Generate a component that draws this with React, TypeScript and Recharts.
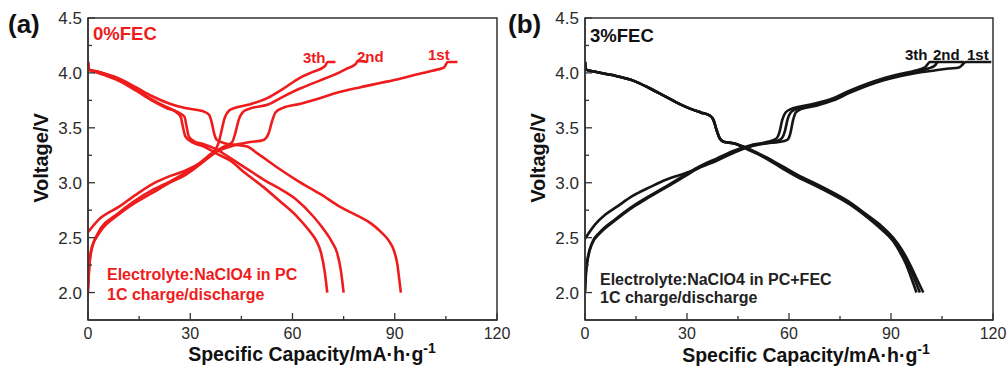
import React from 'react'
import { LineChart, Line, XAxis, YAxis, ReferenceArea } from 'recharts'

type Pt = [number, number]

// capacity (mA·h/g), voltage (V)

// (a) 0% FEC
const chargeA1: Pt[] = [
  [0, 2.55], [3, 2.66], [9, 2.78], [14, 2.89], [19, 2.99], [24, 3.06], [28.5, 3.11],
  [34, 3.2], [38.3, 3.29], [42.7, 3.34], [47.6, 3.37], [51.5, 3.39], [53, 3.45],
  [54, 3.56], [55, 3.64], [57, 3.68], [62.4, 3.72], [67, 3.76], [72, 3.81], [80, 3.87],
  [86, 3.91], [91.8, 3.95], [97, 3.99], [102.5, 4.03], [104.5, 4.05], [105.5, 4.1], [108.4, 4.1],
]
const chargeA2: Pt[] = [
  [0, 2.0], [0.3, 2.2], [0.8, 2.35], [2.9, 2.54], [8.8, 2.72], [13, 2.82], [18.7, 2.93],
  [24, 3.01], [28.5, 3.09], [32, 3.16], [36.4, 3.27], [40, 3.33], [42.3, 3.37], [43.2, 3.45],
  [44.2, 3.57], [45.7, 3.65], [48, 3.68], [52.6, 3.71], [57, 3.78], [62.4, 3.86], [68, 3.93],
  [72, 3.98], [76, 4.04], [78.5, 4.08], [79.2, 4.11], [82, 4.1],
]
const chargeA3: Pt[] = [
  [0, 2.05], [0.3, 2.22], [1, 2.4], [3.5, 2.55], [9, 2.71], [14, 2.82], [19, 2.91], [24, 3.0],
  [28.5, 3.07], [33, 3.17], [36.5, 3.27], [38.3, 3.36], [39, 3.45], [40, 3.58], [41.5, 3.66],
  [43, 3.68], [47, 3.71], [52.6, 3.77], [57, 3.85], [62.4, 3.96], [66, 4.01], [69.5, 4.06],
  [70.3, 4.1], [72.6, 4.1],
]
const dischargeA1: Pt[] = [
  [0, 4.1], [0.3, 4.03], [3, 4.01], [9, 3.95], [14, 3.87], [18.7, 3.79], [24, 3.72], [28.5, 3.68],
  [33.8, 3.65], [35.5, 3.62], [36.3, 3.55], [37, 3.45], [37.8, 3.39], [40, 3.36], [46.7, 3.33],
  [49.6, 3.27], [55, 3.15], [61.4, 3.02], [68, 2.9], [74, 2.78], [79, 2.7], [83, 2.63], [86, 2.55],
  [88.3, 2.47], [89.8, 2.38], [90.8, 2.25], [91.4, 2.1], [91.8, 2.0],
]
const dischargeA2: Pt[] = [
  [0, 4.1], [0.3, 4.03], [3, 4.01], [8.9, 3.94], [14, 3.85], [18.7, 3.76], [23, 3.69], [26.5, 3.64],
  [28.3, 3.6], [29, 3.5], [29.6, 3.42], [31, 3.38], [34, 3.35], [38, 3.3], [42, 3.22], [47, 3.12],
  [52, 3.02], [56, 2.95], [61, 2.85], [66.2, 2.69], [69.5, 2.56], [71.6, 2.46], [73.1, 2.36],
  [74.2, 2.2], [75, 2.0],
]
const dischargeA3: Pt[] = [
  [0, 4.1], [0.3, 4.03], [3, 4.0], [8.9, 3.93], [14, 3.84], [18.7, 3.75], [23, 3.68], [26, 3.64],
  [27.2, 3.6], [27.9, 3.5], [28.6, 3.42], [30.5, 3.37], [34, 3.33], [38, 3.26], [41.8, 3.2],
  [46, 3.09], [51.5, 2.96], [56, 2.84], [61.4, 2.69], [65, 2.56], [67, 2.47], [68.3, 2.37],
  [69.4, 2.2], [70.2, 2.0],
]

// (b) 3% FEC
const chargeB1: Pt[] = [
  [0, 2.49], [3, 2.62], [6, 2.71], [9.3, 2.78], [14, 2.88], [19.1, 2.96], [24, 3.03], [28.9, 3.08],
  [33.8, 3.14], [38.7, 3.2], [43.6, 3.27], [48.5, 3.33], [53.4, 3.36], [57, 3.37], [59.5, 3.39],
  [60.4, 3.45], [61.2, 3.57], [62, 3.64], [63.5, 3.67], [68, 3.7], [73, 3.75], [78, 3.82],
  [82.8, 3.88], [87.6, 3.93], [92.6, 3.97], [97.5, 4.0], [102.4, 4.02], [107, 4.04], [110, 4.05],
  [111.2, 4.08], [112, 4.1], [119.5, 4.1],
]
const chargeB2: Pt[] = [
  [0, 2.0], [0.3, 2.18], [0.8, 2.3], [2, 2.44], [4.4, 2.54], [9, 2.66], [14.2, 2.78], [19, 2.87],
  [24, 2.96], [28.9, 3.05], [33.8, 3.14], [38.7, 3.21], [43.6, 3.28], [48.5, 3.33], [53.4, 3.36],
  [56.5, 3.38], [58, 3.41], [58.8, 3.47], [59.6, 3.58], [60.5, 3.64], [62, 3.67], [68, 3.71],
  [73, 3.76], [78, 3.83], [82.8, 3.89], [87.6, 3.94], [92.6, 3.98], [97.5, 4.01], [101, 4.04],
  [103, 4.07], [103.8, 4.1], [111.5, 4.1],
]
const chargeB3: Pt[] = [
  [0, 2.02], [0.3, 2.2], [0.9, 2.33], [2.2, 2.46], [4.4, 2.55], [9, 2.67], [14.2, 2.79], [19, 2.88],
  [24, 2.97], [28.9, 3.06], [33.8, 3.15], [38.7, 3.22], [43.6, 3.29], [48.5, 3.34], [53.4, 3.37],
  [56.2, 3.4], [57.2, 3.46], [58, 3.57], [59, 3.64], [60.5, 3.67], [66, 3.71], [73, 3.77],
  [78, 3.84], [82.8, 3.9], [87.6, 3.95], [92.6, 3.99], [97, 4.02], [100, 4.05], [101.5, 4.1], [104, 4.1],
]
const dischargeB1: Pt[] = [
  [0, 4.1], [0.3, 4.03], [3, 4.01], [8, 3.98], [14.2, 3.93], [19, 3.86], [24, 3.78], [29, 3.7],
  [34, 3.64], [36.8, 3.61], [37.8, 3.57], [38.7, 3.48], [39.7, 3.4], [41, 3.37], [43.6, 3.36],
  [48, 3.31], [53.4, 3.23], [58, 3.15], [63.2, 3.06], [68, 2.99], [73, 2.91], [78, 2.82],
  [82.8, 2.71], [87, 2.61], [90.6, 2.5], [93, 2.4], [95.2, 2.28], [97.5, 2.13], [99.5, 2.0],
]
const dischargeB2: Pt[] = [
  [0, 4.1], [0.3, 4.03], [3, 4.01], [8, 3.98], [14.2, 3.93], [19, 3.86], [24, 3.78], [29, 3.7],
  [34, 3.64], [36.8, 3.61], [37.8, 3.57], [38.7, 3.48], [39.7, 3.4], [41, 3.37], [43.6, 3.36],
  [48, 3.31], [53.4, 3.22], [58, 3.14], [63.2, 3.05], [68, 2.98], [73, 2.9], [78, 2.81],
  [82.8, 2.7], [87, 2.6], [90.6, 2.48], [92.8, 2.38], [94.8, 2.27], [96.8, 2.13], [98.5, 2.0],
]
const dischargeB3: Pt[] = [
  [0, 4.1], [0.3, 4.03], [3, 4.01], [8, 3.98], [14.2, 3.93], [19, 3.86], [24, 3.78], [29, 3.7],
  [34, 3.64], [36.8, 3.61], [37.8, 3.57], [38.7, 3.48], [39.7, 3.4], [41, 3.37], [43.6, 3.36],
  [48, 3.3], [53.4, 3.22], [58, 3.13], [63.2, 3.04], [68, 2.97], [73, 2.89], [78, 2.8],
  [82.8, 2.69], [87, 2.58], [90.6, 2.47], [92.6, 2.37], [94.4, 2.26], [96, 2.13], [97.5, 2.0],
]

const X_TICKS = [0, 15, 30, 45, 60, 75, 90, 105, 120]
const Y_TICKS = [2.0, 2.25, 2.5, 2.75, 3.0, 3.25, 3.5, 3.75, 4.0, 4.25, 4.5]

const RED = '#ee1c1c'
const BLACK = '#151515'
const AXIS = '#333'
const FONT = 'Liberation Sans, Arial, sans-serif'

const rows = (pts: Pt[]) => pts.map(([x, v]) => ({ x, v }))

function XTick({ x, y, payload }: any) {
  const major = payload.value % 30 === 0
  return (
    <g>
      <line x1={x} y1={y} x2={x} y2={y - (major ? 7 : 4)} stroke={AXIS} strokeWidth={1.3} />
      {major && (
        <text x={x} y={y + 19} textAnchor="middle" fontSize={16} fill="#2a2a2a" fontFamily={FONT}>
          {payload.value}
        </text>
      )}
    </g>
  )
}

function YTick({ x, y, payload }: any) {
  const v = payload.value
  const major = Math.abs(v * 2 - Math.round(v * 2)) < 1e-6
  return (
    <g>
      <line x1={x} y1={y} x2={x + (major ? 7 : 4)} y2={y} stroke={AXIS} strokeWidth={1.3} />
      {major && (
        <text x={x - 6} y={y + 6} textAnchor="end" fontSize={17} fill="#2a2a2a" fontFamily={FONT}>
          {v.toFixed(1)}
        </text>
      )}
    </g>
  )
}

interface PanelProps {
  left: number
  width: number
  margin: { top: number; right: number; bottom: number; left: number }
  color: string
  series: Pt[][]
}

function Panel({ left, width, margin, color, series }: PanelProps) {
  return (
    <div style={{ position: 'absolute', left, top: 0 }}>
      <LineChart width={width} height={370} margin={margin}>
        <XAxis
          dataKey="x"
          type="number"
          domain={[0, 120]}
          ticks={X_TICKS}
          allowDataOverflow
          height={30}
          tickSize={0}
          tickMargin={0}
          tickLine={false}
          tick={<XTick />}
          axisLine={{ stroke: AXIS, strokeWidth: 1.5 }}
        />
        <YAxis
          type="number"
          domain={[1.75, 4.5]}
          ticks={Y_TICKS}
          allowDataOverflow
          width={60}
          tickSize={0}
          tickMargin={0}
          tickLine={false}
          tick={<YTick />}
          axisLine={{ stroke: AXIS, strokeWidth: 1.5 }}
        />
        <ReferenceArea x1={0} x2={120} y1={1.75} y2={4.5} fill="none" stroke={AXIS} strokeWidth={1.5} />
        {series.map((s, i) => (
          <Line
            key={i}
            data={rows(s)}
            dataKey="v"
            type="monotoneX"
            stroke={color}
            strokeWidth={2.6}
            dot={false}
            activeDot={false}
            isAnimationActive={false}
          />
        ))}
      </LineChart>
    </div>
  )
}

function XTitle({ cx, y }: { cx: number; y: number }) {
  return (
    <text x={cx} y={y} textAnchor="middle" fontSize={19.5} fontWeight="bold" fill="#111" fontFamily={FONT}>
      Specific Capacity/mA·h·g
      <tspan dy={-8} fontSize={14}>-1</tspan>
    </text>
  )
}

function YTitle({ x, cy }: { x: number; cy: number }) {
  return (
    <text
      transform={`translate(${x},${cy}) rotate(-90)`}
      textAnchor="middle"
      fontSize={20}
      fontWeight="bold"
      fill="#111"
      fontFamily={FONT}
    >
      Voltage/V
    </text>
  )
}

export default function App() {
  return (
    <div style={{ position: 'absolute', left: 0, top: 0, width: 1008, height: 370, background: '#fff', overflow: 'hidden' }}>
      <Panel
        left={0}
        width={530}
        margin={{ top: 18, right: 33, bottom: 20, left: 28 }}
        color={RED}
        series={[chargeA1, chargeA2, chargeA3, dischargeA1, dischargeA2, dischargeA3]}
      />
      <Panel
        left={500}
        width={508}
        margin={{ top: 18, right: 15, bottom: 20, left: 25 }}
        color={BLACK}
        series={[chargeB1, chargeB2, chargeB3, dischargeB1, dischargeB2, dischargeB3]}
      />
      <svg width={1008} height={370} style={{ position: 'absolute', left: 0, top: 0, pointerEvents: 'none' }}>
        <g fontFamily={FONT} fontWeight="bold">
          <text x={8} y={33} fontSize={26} fill="#111">(a)</text>
          <text x={508} y={33} fontSize={26} fill="#111">(b)</text>

          <text x={93} y={40} fontSize={18.5} fill={RED}>0%FEC</text>
          <text x={303} y={63} fontSize={15} fill={RED}>3th</text>
          <text x={357} y={62} fontSize={15} fill={RED}>2nd</text>
          <text x={428} y={60} fontSize={15} fill={RED}>1st</text>
          <text x={107} y={280} fontSize={16} fill={RED}>Electrolyte:NaClO4 in PC</text>
          <text x={107} y={300} fontSize={16} fill={RED}>1C charge/discharge</text>

          <text x={590} y={42} fontSize={18.5} fill="#111">3%FEC</text>
          <text x={905} y={60} fontSize={15} fill="#111">3th</text>
          <text x={933} y={60} fontSize={15} fill="#111">2nd</text>
          <text x={967} y={60} fontSize={15} fill="#111">1st</text>
          <text x={600} y={285} fontSize={16} fill="#222">Electrolyte:NaClO4 in PC+FEC</text>
          <text x={600} y={303} fontSize={16} fill="#222">1C charge/discharge</text>
        </g>
        <YTitle x={48} cy={158} />
        <YTitle x={545} cy={158} />
        <XTitle cx={312} y={361} />
        <XTitle cx={806} y={362} />
      </svg>
    </div>
  )
}
